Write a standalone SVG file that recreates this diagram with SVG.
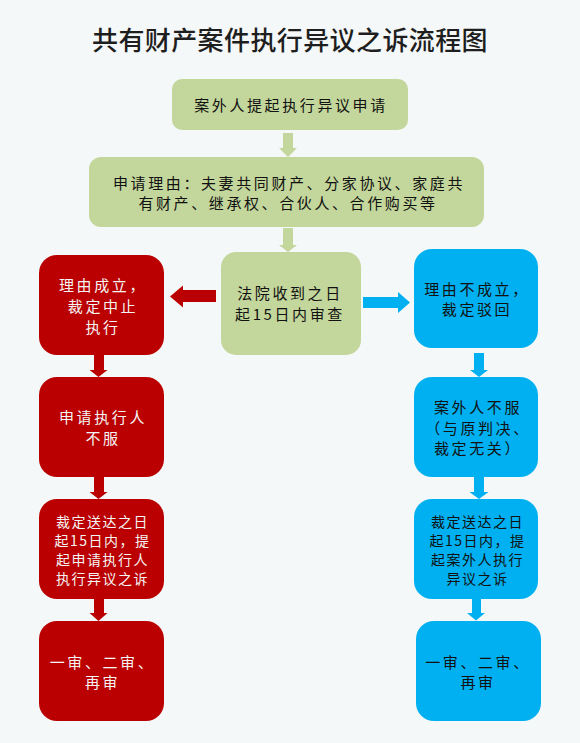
<svg xmlns="http://www.w3.org/2000/svg" width="580" height="743" viewBox="0 0 580 743">
<style>
text{font-family:"Noto Sans CJK SC","Noto Sans",sans-serif;text-anchor:middle}
.title{font-size:26px;fill:#1e1e1e;font-weight:500}
.g{fill:#c3d69b}
.r{fill:#ba0000}
.b{fill:#00b0f0}
.t16{font-size:15px;letter-spacing:2.6px;fill:#111}
.t15{font-size:14px;letter-spacing:1.5px}
.dk{fill:#111}
.wt{fill:#f4f4f4}
</style>
<rect width="580" height="743" fill="#f5f8f8"/>
<text class="title" x="290" y="50" letter-spacing="0.4">共有财产案件执行异议之诉流程图</text>

<g id="connectors">
<polygon class="g" points="283,133 293,133 293,148 297,148 288,157 279,148 283,148"/>
<polygon class="g" points="283,228 293,228 293,245 297,245 288,252 279,245 283,245"/>
<polygon class="r" points="170,296.5 183,285.5 183,290 216,290 216,302 183,302 183,307.5"/>
<polygon class="b" points="363,297 398,297 398,292 410,302.5 398,313 398,308 363,308"/>
<polygon class="r" points="94,355 104,355 104,370 107.5,370 98.5,377 89.5,370 94,370"/>
<polygon class="r" points="94,477 104,477 104,492 107.5,492 98.5,499 89.5,492 94,492"/>
<polygon class="r" points="94,599 104,599 104,613 107.5,613 98.5,621 89.5,613 94,613"/>
<polygon class="b" points="474,353 484,353 484,370 488,370 479,377 470,370 474,370"/>
<polygon class="b" points="474,477 484,477 484,492 488.5,492 479,499 469.5,492 474,492"/>
<polygon class="b" points="472,599 481,599 481,613 485,613 476,620.5 467,613 472,613"/>
</g>

<g id="n-apply">
<rect class="g" x="172" y="79" width="236" height="51" rx="10"/>
<text class="t16" x="291" y="110.5">案外人提起执行异议申请</text>
</g>
<g id="n-reason">
<rect class="g" x="89" y="157" width="395" height="70" rx="12"/>
<text class="t16" x="289" y="188.5">申请理由：夫妻共同财产、分家协议、家庭共</text>
<text class="t16" x="288" y="208.5">有财产、继承权、合伙人、合作购买等</text>
</g>
<g id="n-court">
<rect class="g" x="221" y="252" width="140" height="103" rx="15"/>
<text class="t16" x="290" y="298.5" letter-spacing="2.3">法院收到之日</text>
<text class="t16" x="290" y="319.5" letter-spacing="2.3">起15日内审查</text>
</g>

<g id="n-red1">
<rect class="r" x="39" y="255" width="125" height="100" rx="18"/>
<text class="t16 wt" x="103" y="290.5" letter-spacing="2">理由成立，</text>
<text class="t16 wt" x="103" y="311.5" letter-spacing="2">裁定中止</text>
<text class="t16 wt" x="103" y="332.5" letter-spacing="2">执行</text>
</g>
<g id="n-red2">
<rect class="r" x="39" y="377" width="125" height="100" rx="18"/>
<text class="t16 wt" x="103" y="422.5" letter-spacing="2">申请执行人</text>
<text class="t16 wt" x="103" y="443.5" letter-spacing="2">不服</text>
</g>
<g id="n-red3">
<rect class="r" x="39" y="499" width="125" height="100" rx="18"/>
<text class="t15 wt" x="102.5" y="526.5">裁定送达之日</text>
<text class="t15 wt" x="102.5" y="545.5">起15日内，提</text>
<text class="t15 wt" x="102.5" y="564.5">起申请执行人</text>
<text class="t15 wt" x="102.5" y="583.5">执行异议之诉</text>
</g>
<g id="n-red4">
<rect class="r" x="39" y="621" width="125" height="100" rx="18"/>
<text class="t16 wt" x="102.5" y="667.5" letter-spacing="1.5">一审、二审、</text>
<text class="t16 wt" x="102.5" y="687.5" letter-spacing="1.5">再审</text>
</g>

<g id="n-blue1">
<rect class="b" x="414" y="249" width="124" height="99" rx="18"/>
<text class="t16" x="477" y="294.5" letter-spacing="1.8">理由不成立，</text>
<text class="t16" x="477" y="314.5" letter-spacing="1.8">裁定驳回</text>
</g>
<g id="n-blue2">
<rect class="b" x="414" y="377" width="124" height="100" rx="18"/>
<text class="t16" x="478" y="412.5" letter-spacing="2">案外人不服</text>
<text class="t16" x="478" y="433.5" letter-spacing="2">（与原判决、</text>
<text class="t16" x="478" y="453.5" letter-spacing="2">裁定无关）</text>
</g>
<g id="n-blue3">
<rect class="b" x="414" y="499" width="124" height="100" rx="18"/>
<text class="t15 dk" x="477.5" y="526.5">裁定送达之日</text>
<text class="t15 dk" x="477.5" y="545.5">起15日内，提</text>
<text class="t15 dk" x="477.5" y="564.5">起案外人执行</text>
<text class="t15 dk" x="477.5" y="583.5">异议之诉</text>
</g>
<g id="n-blue4">
<rect class="b" x="416" y="621" width="125" height="100" rx="18"/>
<text class="t16" x="478" y="667.5" letter-spacing="1.5">一审、二审、</text>
<text class="t16" x="478" y="687.5" letter-spacing="1.5">再审</text>
</g>
</svg>
